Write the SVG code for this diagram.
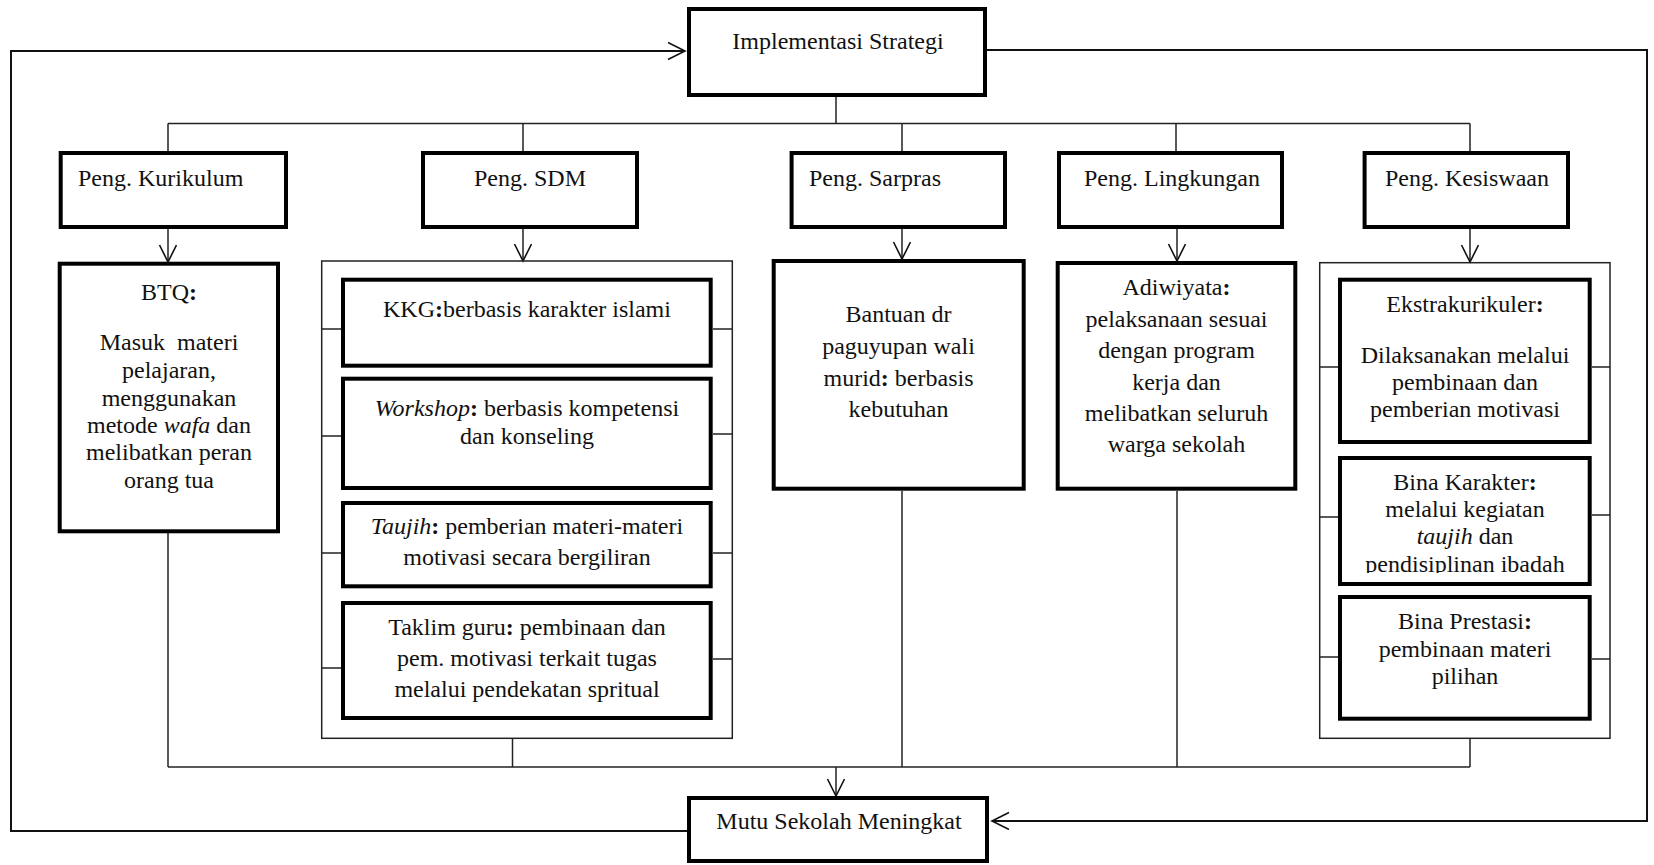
<svg xmlns="http://www.w3.org/2000/svg" width="1654" height="865" viewBox="0 0 1654 865">
<style>
text{font-family:"Liberation Serif","Times New Roman",serif;font-size:24px;fill:#111;}
.c{text-anchor:middle;}
.b{font-weight:bold;}
.i{font-style:italic;}
.box{fill:#fff;stroke:#000;stroke-width:4;}
.cont{fill:none;stroke:#222;stroke-width:1.5;}
.ln{fill:none;stroke:#222;stroke-width:1.5;}
.fb{fill:none;stroke:#111;stroke-width:2;}
</style>
<defs>
<marker id="arr" markerUnits="userSpaceOnUse" markerWidth="20" markerHeight="20" viewBox="0 0 20 20" refX="18" refY="9" orient="auto">
<path d="M1,0.5 L18,9 L1,17.5" fill="none" stroke="#111" stroke-width="1.6"/>
</marker>
<clipPath id="clipBK"><rect x="1340" y="458" width="250" height="115"/></clipPath>
</defs>

<g id="connectors">
<!-- feedback loops -->
<polyline class="fb" points="687,831 11,831 11,51 685,51" marker-end="url(#arr)"/>
<polyline class="fb" points="987,50 1647,50 1647,821 992,821" marker-end="url(#arr)"/>
<!-- top bus -->
<line class="ln" x1="836" y1="97" x2="836" y2="123.5"/>
<line class="ln" x1="168" y1="123.5" x2="1470" y2="123.5"/>
<line class="ln" x1="168" y1="123.5" x2="168" y2="151"/>
<line class="ln" x1="523" y1="123.5" x2="523" y2="151"/>
<line class="ln" x1="902" y1="123.5" x2="902" y2="151"/>
<line class="ln" x1="1176" y1="123.5" x2="1176" y2="151"/>
<line class="ln" x1="1470" y1="123.5" x2="1470" y2="151"/>
<!-- arrows to second row -->
<line class="ln" x1="168" y1="229" x2="168" y2="262" marker-end="url(#arr)"/>
<line class="ln" x1="523" y1="229" x2="523" y2="261" marker-end="url(#arr)"/>
<line class="ln" x1="902" y1="229" x2="902" y2="259" marker-end="url(#arr)"/>
<line class="ln" x1="1177" y1="229" x2="1177" y2="261" marker-end="url(#arr)"/>
<line class="ln" x1="1470" y1="229" x2="1470" y2="262" marker-end="url(#arr)"/>
<!-- SDM container side links -->
<line class="ln" x1="322" y1="329" x2="341" y2="329"/>
<line class="ln" x1="322" y1="436" x2="341" y2="436"/>
<line class="ln" x1="322" y1="553" x2="341" y2="553"/>
<line class="ln" x1="322" y1="668" x2="341" y2="668"/>
<line class="ln" x1="713" y1="329" x2="732" y2="329"/>
<line class="ln" x1="713" y1="434" x2="732" y2="434"/>
<line class="ln" x1="713" y1="553" x2="732" y2="553"/>
<line class="ln" x1="713" y1="659" x2="732" y2="659"/>
<!-- Kesiswaan container side links -->
<line class="ln" x1="1320" y1="367" x2="1338" y2="367"/>
<line class="ln" x1="1320" y1="517" x2="1338" y2="517"/>
<line class="ln" x1="1320" y1="657" x2="1338" y2="657"/>
<line class="ln" x1="1592" y1="367" x2="1610" y2="367"/>
<line class="ln" x1="1592" y1="515" x2="1610" y2="515"/>
<line class="ln" x1="1592" y1="659" x2="1610" y2="659"/>
<!-- bottom bus -->
<line class="ln" x1="168" y1="533" x2="168" y2="767"/>
<line class="ln" x1="512.5" y1="738" x2="512.5" y2="767"/>
<line class="ln" x1="902" y1="491" x2="902" y2="767"/>
<line class="ln" x1="1177" y1="491" x2="1177" y2="767"/>
<line class="ln" x1="1470" y1="738" x2="1470" y2="767"/>
<line class="ln" x1="168" y1="767" x2="1470" y2="767"/>
<line class="ln" x1="836" y1="767" x2="836" y2="796" marker-end="url(#arr)"/>
</g>

<g id="implementasi">
<rect class="box" x="689" y="9" width="296" height="86"/>
<text class="c" x="838" y="49">Implementasi Strategi</text>
</g>

<g id="peng-kurikulum">
<rect class="box" x="60.7" y="153" width="225.3" height="74"/>
<text x="78" y="186">Peng. Kurikulum</text>
</g>
<g id="peng-sdm">
<rect class="box" x="423" y="153" width="214" height="74"/>
<text class="c" x="530" y="186">Peng. SDM</text>
</g>
<g id="peng-sarpras">
<rect class="box" x="791.6" y="153" width="213.4" height="74"/>
<text x="809" y="186">Peng. Sarpras</text>
</g>
<g id="peng-lingkungan">
<rect class="box" x="1059" y="153" width="223" height="74"/>
<text x="1084" y="186">Peng. Lingkungan</text>
</g>
<g id="peng-kesiswaan">
<rect class="box" x="1364.6" y="153" width="203.4" height="74"/>
<text x="1385" y="186">Peng. Kesiswaan</text>
</g>

<g id="btq">
<rect class="box" x="59.7" y="263.7" width="218.3" height="267.6"/>
<text class="c" x="169" y="300">BTQ<tspan class="b">:</tspan></text>
<text class="c" x="169" y="350" xml:space="preserve">Masuk  materi</text>
<text class="c" x="169" y="378">pelajaran,</text>
<text class="c" x="169" y="406">menggunakan</text>
<text class="c" x="169" y="433">metode <tspan class="i">wafa</tspan> dan</text>
<text class="c" x="169" y="460">melibatkan peran</text>
<text class="c" x="169" y="488">orang tua</text>
</g>

<g id="sdm-group">
<rect class="cont" x="321.7" y="261" width="410.6" height="477.3"/>
<g id="kkg">
<rect class="box" x="343" y="279.7" width="367.7" height="86"/>
<text class="c" x="527" y="317">KKG<tspan class="b">:</tspan>berbasis karakter islami</text>
</g>
<g id="workshop">
<rect class="box" x="343" y="378.7" width="367.7" height="109.3"/>
<text class="c" x="527" y="415.7"><tspan class="i">Workshop</tspan><tspan class="b">:</tspan> berbasis kompetensi</text>
<text class="c" x="527" y="444">dan konseling</text>
</g>
<g id="taujih">
<rect class="box" x="343" y="503" width="367.7" height="83.3"/>
<text class="c" x="527" y="534.3"><tspan class="i">Taujih</tspan><tspan class="b">:</tspan> pemberian materi-materi</text>
<text class="c" x="527" y="565">motivasi secara bergiliran</text>
</g>
<g id="taklim">
<rect class="box" x="343" y="603" width="367.7" height="115"/>
<text class="c" x="527" y="635">Taklim guru<tspan class="b">:</tspan> pembinaan dan</text>
<text class="c" x="527" y="665.7">pem. motivasi terkait tugas</text>
<text class="c" x="527" y="696.7">melalui pendekatan spritual</text>
</g>
</g>

<g id="sarpras">
<rect class="box" x="773.7" y="261" width="250" height="227.7"/>
<text class="c" x="898.5" y="321.7">Bantuan dr</text>
<text class="c" x="898.5" y="354">paguyupan wali</text>
<text class="c" x="898.5" y="385.7">murid<tspan class="b">:</tspan> berbasis</text>
<text class="c" x="898.5" y="416.7">kebutuhan</text>
</g>

<g id="adiwiyata">
<rect class="box" x="1057.7" y="263" width="237.6" height="225.7"/>
<text class="c" x="1176.5" y="295">Adiwiyata<tspan class="b">:</tspan></text>
<text class="c" x="1176.5" y="327.3">pelaksanaan sesuai</text>
<text class="c" x="1176.5" y="358.3">dengan program</text>
<text class="c" x="1176.5" y="390">kerja dan</text>
<text class="c" x="1176.5" y="420.7">melibatkan seluruh</text>
<text class="c" x="1176.5" y="451.7">warga sekolah</text>
</g>

<g id="kesiswaan-group">
<rect class="cont" x="1319.7" y="262.7" width="290.3" height="475.6"/>
<g id="ekstrakurikuler">
<rect class="box" x="1340" y="279.7" width="249.7" height="162.3"/>
<text class="c" x="1465" y="311.7">Ekstrakurikuler<tspan class="b">:</tspan></text>
<text class="c" x="1465" y="363.3">Dilaksanakan melalui</text>
<text class="c" x="1465" y="390">pembinaan dan</text>
<text class="c" x="1465" y="416.7">pemberian motivasi</text>
</g>
<g id="bina-karakter">
<rect class="box" x="1340" y="458" width="249.7" height="126"/>
<text class="c" x="1465" y="490">Bina Karakter<tspan class="b">:</tspan></text>
<text class="c" x="1465" y="516.7">melalui kegiatan</text>
<text class="c" x="1465" y="544.3"><tspan class="i">taujih</tspan> dan</text>
<text class="c" x="1465" y="571.7" clip-path="url(#clipBK)">pendisiplinan ibadah</text>
</g>
<g id="bina-prestasi">
<rect class="box" x="1340" y="597" width="249.7" height="121.7"/>
<text class="c" x="1465" y="629">Bina Prestasi<tspan class="b">:</tspan></text>
<text class="c" x="1465" y="656.7">pembinaan materi</text>
<text class="c" x="1465" y="684.3">pilihan</text>
</g>
</g>

<g id="mutu">
<rect class="box" x="689" y="798" width="298" height="63"/>
<text class="c" x="839" y="829">Mutu Sekolah Meningkat</text>
</g>
</svg>
